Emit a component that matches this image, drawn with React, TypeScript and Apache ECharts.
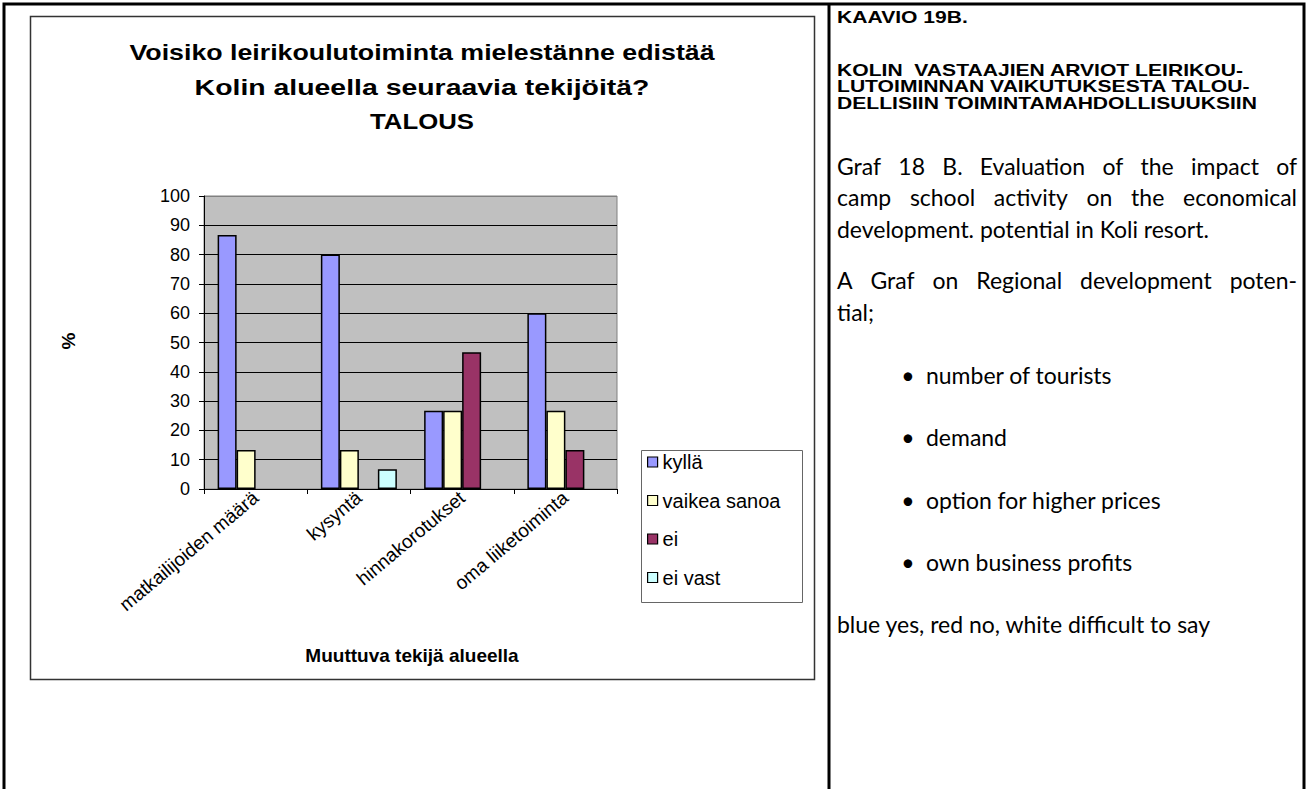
import React, { useEffect, useRef } from "react";
import * as echarts from "echarts";

// ---------- data ----------
const categories = ["matkailijoiden määrä", "kysyntä", "hinnakorotukset", "oma liiketoiminta"];
const seriesNames = ["kyllä", "vaikea sanoa", "ei", "ei vast"];
const kylla = [86.7, 80, 26.7, 60];
const vaikeaSanoa = [13.3, 13.3, 26.7, 26.7];
const ei = [null, null, 46.7, 13.3];
const eiVast = [null, 6.7, null, null];
const seriesValues = [kylla, vaikeaSanoa, ei, eiVast];
const seriesColors = ["#9999FF", "#FFFFCC", "#993366", "#CCFFFF"];
const yMin = 0;
const yMax = 100;
const yStep = 10;

const chartTitle = [
  "Voisiko leirikoulutoiminta mielestänne edistää",
  "Kolin alueella seuraavia tekijöitä?",
  "TALOUS",
];
const yAxisName = "%";
const xAxisName = "Muuttuva tekijä alueella";

const sideHeading = "KAAVIO 19B.";
const sideSubheading = [
  "KOLIN  VASTAAJIEN ARVIOT LEIRIKOU-",
  "LUTOIMINNAN VAIKUTUKSESTA TALOU-",
  "DELLISIIN TOIMINTAMAHDOLLISUUKSIIN",
];
const sideParagraph1 = [
  "Graf 18 B. Evaluation of the impact of",
  "camp school activity on the economical",
  "development. potential in Koli resort.",
];
const sideParagraph2 = ["A Graf on Regional development poten-", "tial;"];
const sideBullets = ["number of tourists", "demand", "option for higher prices", "own business profits"];
const sideNote = "blue yes, red no, white difficult to say";

// ---------- helpers ----------
const ARIAL = '"Liberation Sans", Arial, sans-serif';
const BODY = 'Lato, "Open Sans", sans-serif';

let ctx2d: CanvasRenderingContext2D | null = null;
function measure(text: string, font: string): number {
  if (!ctx2d) ctx2d = document.createElement("canvas").getContext("2d");
  ctx2d!.font = font;
  return ctx2d!.measureText(text).width;
}

function txt(x: number, y: number, text: string, font: string, extra: any = {}) {
  const { align = "left", ...rest } = extra;
  return {
    type: "text",
    x,
    y,
    silent: true,
    ...rest,
    style: {
      text,
      font,
      fill: "#000",
      align,
      verticalAlign: "middle",
      textAlign: align,
      textVerticalAlign: "middle",
    },
  };
}

function justified(x0: number, x1: number, y: number, line: string, font: string) {
  const words = line.split(/\s+/);
  const widths = words.map((w) => measure(w, font));
  const total = widths.reduce((a, b) => a + b, 0);
  const gap = words.length > 1 ? (x1 - x0 - total) / (words.length - 1) : 0;
  const out: any[] = [];
  let x = x0;
  words.forEach((w, i) => {
    out.push(txt(x, y, w, font));
    x += widths[i] + gap;
  });
  return out;
}

export default function App() {
  const ref = useRef<HTMLDivElement>(null);

  useEffect(() => {
    if (!ref.current) return;
    const chart = echarts.init(ref.current, null, { renderer: "svg" });

    // side heading: compact bold type, stretched horizontally as in the reference
    const headFont = `bold 16px ${ARIAL}`;
    const headScale = 420 / measure(sideSubheading[2], headFont);
    const bodySize = (20 * 372) / measure(sideParagraph1[2], `20px ${BODY}`);
    const bodyFont = `${bodySize.toFixed(2)}px ${BODY}`;

    const titleFont = `bold 22px ${ARIAL}`;
    const titleWidths = [585, 455, 104];
    const titleY = [52, 87, 121];
    const axisNameFont = `bold 19px ${ARIAL}`;

    const sideX0 = 837;
    const sideX1 = 1297;
    const graphics: any[] = [
      // outer table frame
      { type: "rect", shape: { x: 4, y: 4, width: 1300, height: 820 }, style: { fill: "none", stroke: "#000", lineWidth: 3 }, silent: true },
      { type: "line", shape: { x1: 829, y1: 4, x2: 829, y2: 800 }, style: { stroke: "#000", lineWidth: 3 }, silent: true },
      // chart frame
      { type: "rect", shape: { x: 30.5, y: 16.5, width: 784, height: 663 }, style: { fill: "none", stroke: "#333", lineWidth: 1.5 }, silent: true, z: -1 },
      // legend frame
      { type: "rect", shape: { x: 641.5, y: 450.5, width: 161, height: 152 }, style: { fill: "#fff", stroke: "#666", lineWidth: 1 }, silent: true, z: -1 },
      // chart titles
      ...chartTitle.map((t, i) =>
        txt(422, titleY[i], t, titleFont, { align: "center", scaleX: titleWidths[i] / measure(t, titleFont) })
      ),
      // axis names
      txt(68, 341, yAxisName, axisNameFont, { align: "center", rotation: Math.PI / 2 }),
      txt(412, 655, xAxisName, axisNameFont, { align: "center" }),
      // side text
      txt(sideX0, 17, sideHeading, headFont, { scaleX: headScale }),
      ...sideSubheading.map((l, i) => txt(sideX0, 70 + i * 16.5, l, headFont, { scaleX: headScale })),
      ...justified(sideX0, sideX1, 166, sideParagraph1[0], bodyFont),
      ...justified(sideX0, sideX1, 197, sideParagraph1[1], bodyFont),
      txt(sideX0, 229, sideParagraph1[2], bodyFont),
      ...justified(sideX0, sideX1, 280, sideParagraph2[0], bodyFont),
      txt(sideX0, 312, sideParagraph2[1], bodyFont),
      ...sideBullets.flatMap((b, i) => [
        txt(908, 375 + i * 62.3, "•", bodyFont, { align: "center" }),
        txt(926, 375 + i * 62.3, b, bodyFont),
      ]),
      txt(sideX0, 624, sideNote, bodyFont),
    ];

    const splitColors: string[] = [];
    for (let v = yMin; v <= yMax; v += yStep) splitColors.push(v === yMax ? "#808080" : "#000");

    chart.setOption({
      animation: false,
      backgroundColor: "#fff",
      textStyle: { fontFamily: ARIAL },
      grid: {
        left: 204,
        top: 196,
        width: 413,
        height: 293,
        show: true,
        backgroundColor: "#C0C0C0",
        borderColor: "#808080",
        borderWidth: 1,
      },
      legend: {
        orient: "vertical",
        left: 647,
        top: 452,
        padding: 0,
        itemWidth: 10,
        itemHeight: 10,
        itemGap: 18.5,
        icon: "rect",
        data: seriesNames,
        itemStyle: { borderColor: "#000", borderWidth: 1.2 },
        textStyle: { fontSize: 20, color: "#000", fontFamily: ARIAL },
        selectedMode: false,
      },
      xAxis: {
        type: "category",
        data: categories,
        axisLine: { show: true, lineStyle: { color: "#000", width: 1 } },
        axisTick: { show: true, length: 5, lineStyle: { color: "#000" } },
        axisLabel: { rotate: 40, interval: 0, fontSize: 19, color: "#000", margin: 6, fontFamily: ARIAL },
        splitLine: { show: false },
      },
      yAxis: {
        type: "value",
        min: yMin,
        max: yMax,
        interval: yStep,
        axisLine: { show: true, lineStyle: { color: "#000", width: 1 } },
        axisTick: { show: true, length: 5, lineStyle: { color: "#000" } },
        axisLabel: { fontSize: 18, color: "#000", margin: 14, fontFamily: ARIAL },
        splitLine: { show: true, lineStyle: { color: splitColors, width: 1 } },
      },
      series: seriesNames.map((name, i) => ({
        name,
        type: "bar",
        data: seriesValues[i],
        barWidth: 19,
        barGap: "0%",
        itemStyle: { color: seriesColors[i], borderColor: "#000", borderWidth: 1.5 },
      })),
      graphic: graphics,
    });

    return () => chart.dispose();
  }, []);

  return (
    <div
      ref={ref}
      style={{ position: "absolute", left: 0, top: 0, width: 1307, height: 789, background: "#fff" }}
    />
  );
}
